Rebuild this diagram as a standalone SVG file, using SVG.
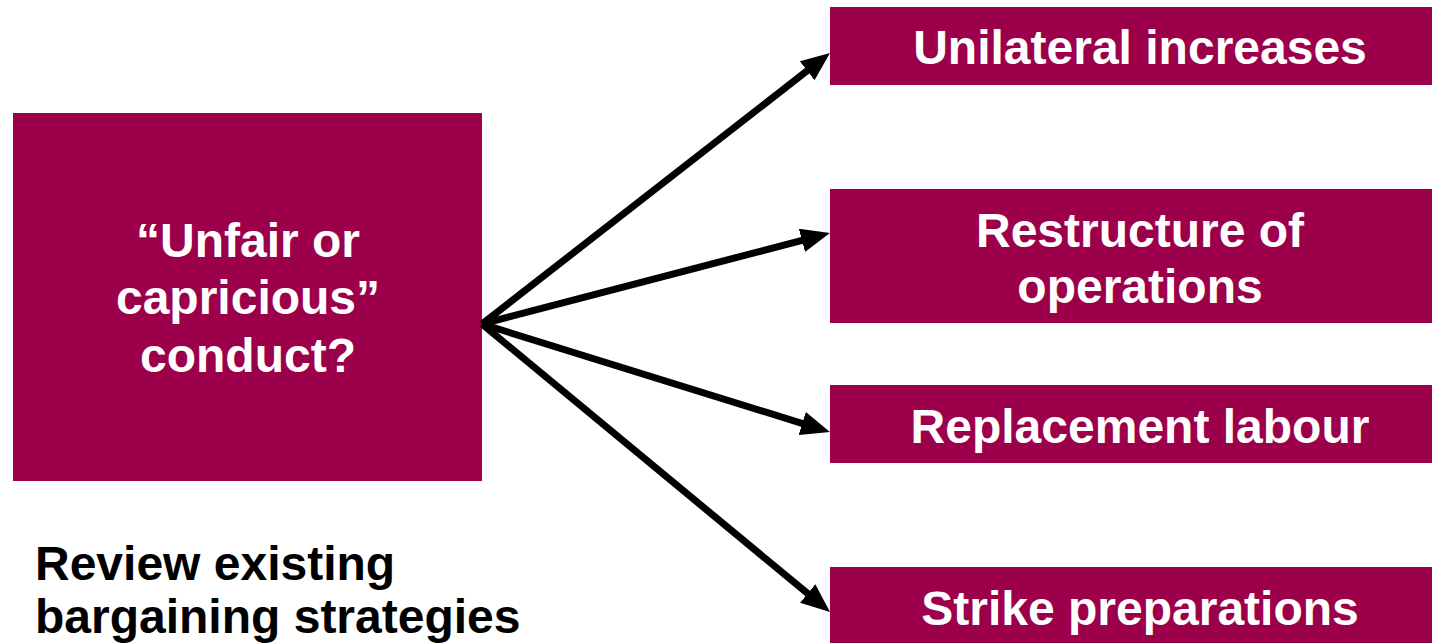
<svg xmlns="http://www.w3.org/2000/svg" width="1432" height="643" viewBox="0 0 1432 643">
  <style>
    .box { fill: #9c004b; }
    .lbl { font-family: "Liberation Sans", Arial, Helvetica, sans-serif; font-weight: bold; font-size: 48px; fill: #ffffff; text-anchor: middle; }
    .note { font-family: "Liberation Sans", Arial, Helvetica, sans-serif; font-weight: bold; font-size: 48px; fill: #000000; }
    .conn { stroke: #000000; stroke-width: 7; fill: none; marker-end: url(#head); }
  </style>
  <defs>
    <marker id="head" markerUnits="userSpaceOnUse" viewBox="0 0 29 24" markerWidth="29" markerHeight="24" refX="13" refY="12" orient="auto">
      <path d="M0,0 L29,12 L0,24 z" fill="#000000"/>
    </marker>
  </defs>
  <rect width="1432" height="643" fill="#ffffff"/>

  <g id="conduct">
    <rect class="box" x="13" y="113" width="469" height="368"/>
    <text class="lbl" x="248" y="257">“Unfair or</text>
    <text class="lbl" x="248" y="314">capricious”</text>
    <text class="lbl" x="248" y="372">conduct?</text>
  </g>

  <g id="unilateral">
    <rect class="box" x="830" y="7" width="602" height="78"/>
    <text class="lbl" x="1140" y="64">Unilateral increases</text>
  </g>

  <g id="restructure">
    <rect class="box" x="830" y="189" width="602" height="134"/>
    <text class="lbl" x="1140" y="247">Restructure of</text>
    <text class="lbl" x="1140" y="303">operations</text>
  </g>

  <g id="replacement">
    <rect class="box" x="830" y="385" width="602" height="78"/>
    <text class="lbl" x="1140" y="443">Replacement labour</text>
  </g>

  <g id="strike">
    <rect class="box" x="830" y="567" width="602" height="76"/>
    <text class="lbl" x="1140" y="625">Strike preparations</text>
  </g>

  <g id="review">
    <text class="note" x="35" y="580">Review existing</text>
    <text class="note" x="35" y="633">bargaining strategies</text>
  </g>

  <g id="connectors">
    <line class="conn" x1="482" y1="324" x2="817.4" y2="62.8"/>
    <line class="conn" x1="482" y1="324" x2="814.5" y2="237.1"/>
    <line class="conn" x1="482" y1="324" x2="814.7" y2="427.3"/>
    <line class="conn" x1="482" y1="324" x2="817.7" y2="601.8"/>
  </g>
</svg>
